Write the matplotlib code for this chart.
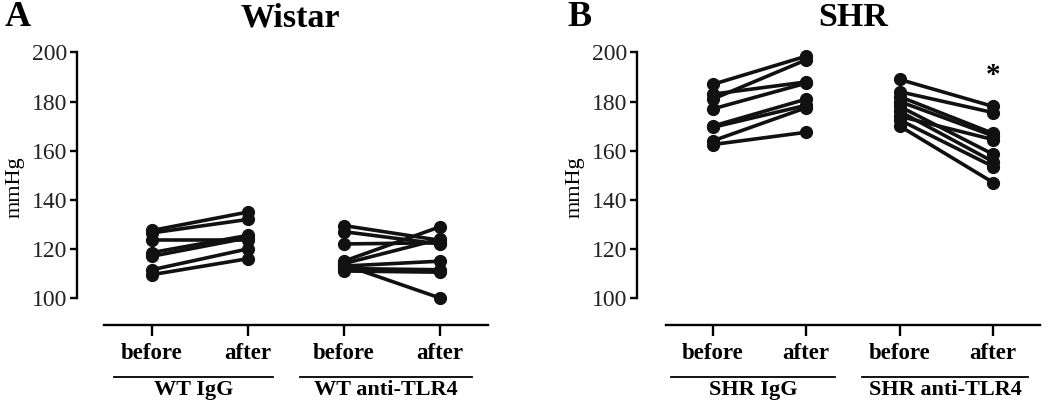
import numpy as np
import matplotlib.pyplot as plt

# before/after pairs (mmHg)
wt_igg_before = [127.5, 126.5, 123.5, 118.5, 117.0, 111.5, 109.5]
wt_igg_after = [135.0, 132.0, 123.5, 125.5, 124.5, 120.0, 116.0]

wt_tlr4_before = [129.5, 127.0, 122.0, 115.0, 114.0, 113.0, 112.0, 111.0, 113.5]
wt_tlr4_after = [123.5, 122.0, 122.5, 129.0, 124.0, 115.0, 111.5, 110.5, 100.0]

shr_igg_before = [187.0, 181.0, 183.0, 177.0, 170.0, 169.5, 164.0, 162.5]
shr_igg_after = [198.5, 197.0, 188.0, 187.5, 181.0, 178.5, 177.5, 167.5]

shr_tlr4_before = [189.0, 184.0, 182.0, 180.0, 178.0, 176.0, 174.0, 172.5, 170.0]
shr_tlr4_after = [178.0, 175.5, 167.0, 166.0, 158.5, 155.5, 164.5, 153.5, 147.0]

tick_labels = ["before", "after", "before", "after"]
yticks = [100, 120, 140, 160, 180, 200]

plt.rcParams['font.family'] = ['Liberation Serif', 'DejaVu Serif']

fig = plt.figure(figsize=(10.5, 4.05), dpi=100)


def panel(rect, xleft, groups, group_names, group_spans, star=None):
    ax = fig.add_axes(rect)
    for x0, (before, after) in zip([0, 2], groups):
        for b, a in zip(before, after):
            ax.plot([x0, x0 + 1], [b, a], color="#111111", lw=2.6,
                    marker="o", markersize=8.5, solid_capstyle="round")
    ax.set_xlim(xleft, 3.5)
    ax.set_ylim(89, 201)
    ax.spines["top"].set_visible(False)
    ax.spines["right"].set_visible(False)
    ax.spines["left"].set_bounds(100, 200)
    ax.spines["bottom"].set_bounds(-0.5, 3.5)
    for s in ["left", "bottom"]:
        ax.spines[s].set_linewidth(1.7)
    ax.set_yticks(yticks)
    ax.set_yticklabels([str(v) for v in yticks], fontsize=17, color="#222222")
    ax.set_xticks([0, 1, 2, 3])
    ax.set_xticklabels(tick_labels, fontsize=16.5, fontweight="bold")
    ax.tick_params(axis="y", direction="out", length=5, width=1.7, pad=2)
    ax.tick_params(axis="x", direction="out", length=8, width=1.7, pad=5)
    ax.set_ylabel("mmHg", fontsize=16, labelpad=5)
    tr = ax.get_xaxis_transform()
    for name, (g0, g1) in zip(group_names, group_spans):
        ax.plot([g0, g1], [-0.19, -0.19], color="black", lw=1.3,
                transform=tr, clip_on=False)
        ax.text((g0 + g1) / 2, -0.237, name, transform=tr, ha="center",
                va="center", fontsize=16, fontweight="bold")
    if star is not None:
        ax.text(3, star, "*", ha="center", va="center", fontsize=21,
                fontweight="bold")
    return ax


bottom = 1 - 325 / 405
height = 275 / 405

panel([77 / 1050, bottom, 411 / 1050, height], -0.78,
      [(wt_igg_before, wt_igg_after), (wt_tlr4_before, wt_tlr4_after)],
      ["WT IgG", "WT anti-TLR4"], [(-0.39, 1.26), (1.54, 3.33)])

panel([637 / 1050, bottom, 403 / 1050, height], -0.81,
      [(shr_igg_before, shr_igg_after), (shr_tlr4_before, shr_tlr4_after)],
      ["SHR IgG", "SHR anti-TLR4"], [(-0.45, 1.31), (1.60, 3.37)],
      star=190.5)

fig.text(5 / 1050, 1 - 18 / 405, "A", fontsize=26, fontweight="bold",
         ha="left", va="center")
fig.text(290 / 1050, 1 - 18 / 405, "Wistar", fontsize=24.5, fontweight="bold",
         ha="center", va="center")
fig.text(567 / 1050, 1 - 18 / 405, "B", fontsize=26, fontweight="bold",
         ha="left", va="center")
fig.text(853 / 1050, 1 - 18 / 405, "SHR", fontsize=24.5, fontweight="bold",
         ha="center", va="center")

fig.savefig("out.png", dpi=100)
